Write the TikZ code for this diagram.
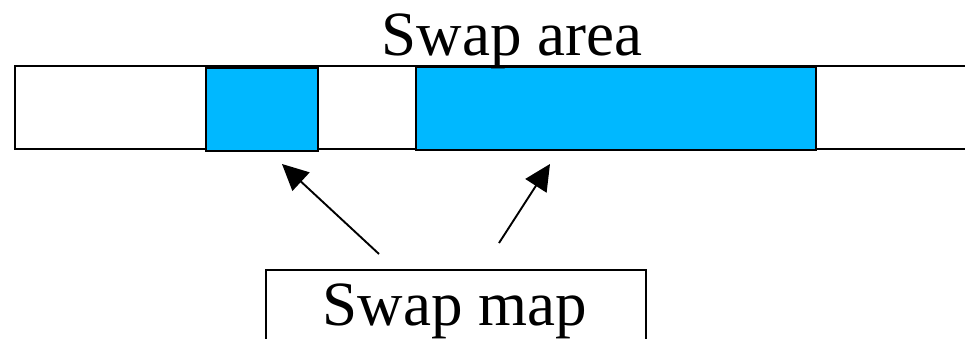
\documentclass[tikz,border=0pt]{standalone}
\usepackage{fontspec}
\setmainfont{Liberation Serif}
\usetikzlibrary{arrows.meta}
\definecolor{swapblue}{RGB}{0,184,255}
\begin{document}
\begin{tikzpicture}[x=1pt,y=-1pt,
  line width=1.8pt,
  bluebox/.style={draw=black,fill=swapblue,line width=1.8pt,inner sep=0pt,anchor=north west},
  bigtext/.style={font=\fontsize{63}{70}\selectfont,inner sep=0pt,anchor=base},
  ptr/.style={line width=1.9pt,-{Triangle[length=26pt,width=25pt]}}]
\useasboundingbox (0,0) rectangle (965,338);
\clip (0,0) rectangle (965,338);
% swap area strip
\draw (965,66) -- (15,66) -- (15,149) -- (965,149);
\node[bluebox,minimum width=112pt,minimum height=83pt] (b1) at (205,67) {};
\node[bluebox,minimum width=400pt,minimum height=83pt] (b2) at (415,66) {};
\node[bigtext] (area) at (512,55) {Swap area};
% swap map box
\node[draw,line width=1.6pt,inner sep=0pt,anchor=north west,minimum width=380pt,minimum height=120pt] (mapbox) at (265,269) {};
\node[bigtext] (map) at (455,325) {Swap map};
% pointers
\coordinate (t1) at (379,254);
\coordinate (h1) at (282,164);
\coordinate (t2) at (499,243);
\coordinate (h2) at (550,164);
\draw[ptr] (t1) -- (h1);
\draw[ptr] (t2) -- (h2);
\end{tikzpicture}
\end{document}
